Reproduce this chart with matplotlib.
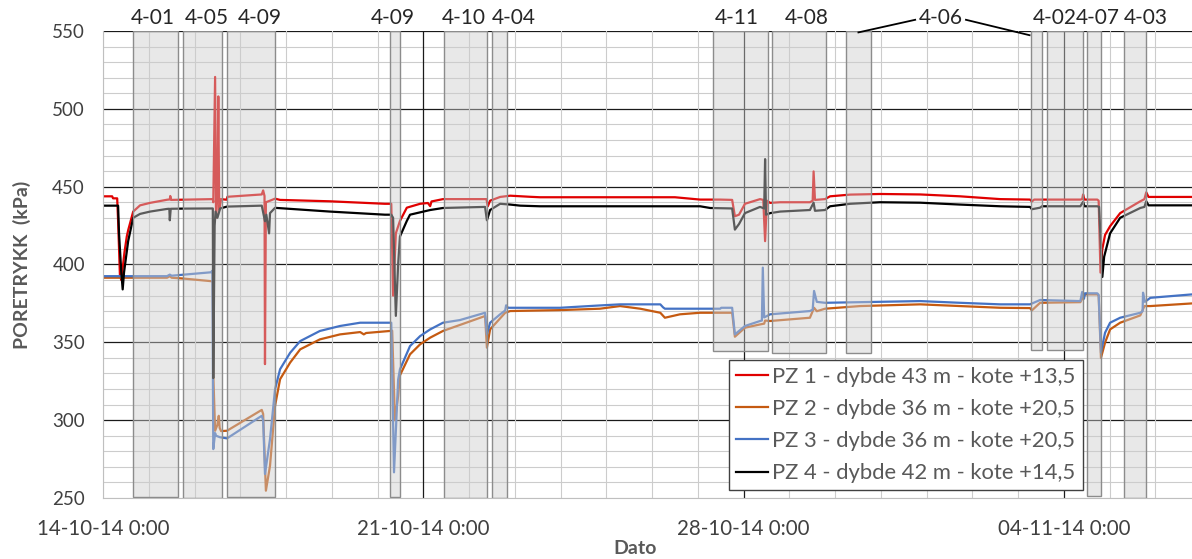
import matplotlib
matplotlib.use("Agg")
import matplotlib.pyplot as plt
from matplotlib.patches import Rectangle

plt.rcParams['font.family'] = ['Lato', 'DejaVu Sans']

# time axis: days after 14-10-14 0:00
week_labels = ["14-10-14 0:00", "21-10-14 0:00", "28-10-14 0:00", "04-11-14 0:00"]
week_days = [0, 7, 14, 21]

# PZ 1 - red
pz1_t = [0, 0.20, 0.22, 0.31, 0.33, 0.37, 0.40, 0.47, 0.52, 0.55, 0.66, 0.81, 1.03,
         1.40, 1.46, 1.47, 1.49, 2.40, 2.41, 2.45, 2.47, 2.50, 2.52, 2.54, 2.58,
         2.70, 2.72, 3.47, 3.50, 3.53, 3.54, 3.56, 3.65, 3.76, 3.87, 4.96, 6.16,
         6.30, 6.34, 6.40, 6.49, 6.64, 6.93, 7.10, 7.15, 7.18, 7.43, 8.38, 8.41,
         8.46, 8.68, 8.90, 9.33, 9.55, 12.50, 13.05, 13.49, 13.75, 13.81, 13.90,
         14.03, 14.36, 14.43, 14.47, 14.51, 14.58, 14.80, 15.45, 15.51, 15.53,
         15.56, 15.78, 15.89, 16.33, 16.98, 17.86, 18.73, 19.61, 20.26, 20.30,
         20.35, 20.52, 21.36, 21.40, 21.42, 21.45, 21.73, 21.76, 21.80, 21.84,
         21.90, 22.01, 22.23, 22.67, 22.76, 22.80, 22.85, 23.80]
pz1_v = [443.8, 443.8, 442.5, 442.5, 428, 393, 390, 408, 418, 422, 434, 438, 439.6,
         441.6, 441.8, 444, 441.5, 442, 440, 520.5, 430, 445, 508, 435, 442,
         441.6, 443.5, 445, 447.6, 444, 336, 440, 441, 442.3, 441.5, 440.6, 439,
         439, 380, 420, 428, 436.5, 439, 439.5, 437.5, 440.5, 442, 442, 437.4,
         441, 443.4, 444.2, 443.5, 443.2, 443.2, 441.7, 441.7, 441.5, 431, 432,
         439, 442, 441.5, 415, 441, 439.6, 440, 440, 441, 459.8,
         441.5, 442, 443.8, 444.9, 445.3, 445, 443.8, 442, 441.7, 440.5,
         441.7, 441.7, 441.7, 442, 445, 441.7, 441.7, 441, 394.8, 410,
         419, 424.6, 433, 440.6, 442, 446.4, 443.4, 443.4]

# PZ 2 - orange
pz2_t = [0, 1.40, 1.46, 1.50, 1.75, 2.36, 2.40, 2.41, 2.45, 2.50, 2.53, 2.55, 2.58,
         2.71, 3.47, 3.50, 3.56, 3.65, 3.76, 3.87, 4.09, 4.31, 4.74, 5.18, 5.62,
         5.70, 5.75, 6.27, 6.32, 6.38, 6.45, 6.49, 6.71, 6.93, 7.15, 7.43, 8.35,
         8.39, 8.46, 8.79, 8.90, 9.99, 10.86, 11.30, 11.74, 12.18, 12.28, 12.61,
         13.05, 13.75, 13.81, 14.03, 14.36, 14.45, 14.47, 14.58, 15.45, 15.54,
         15.60, 15.78, 16.55, 17.86, 18.73, 19.61, 20.26, 20.30, 20.48, 21.36,
         21.40, 21.46, 21.73, 21.76, 21.81, 21.90, 22.01, 22.23, 22.67, 22.76,
         22.89, 23.80]
pz2_v = [391.5, 391.5, 392.5, 391.5, 391, 389.3, 389, 330, 293.2, 297, 302.8, 295, 293,
         293.2, 306.6, 304, 254.7, 270.7, 309.2, 326.3, 337, 345.5, 351.9, 355.1, 356.6,
         355.1, 356, 357.3, 357.5, 300, 315.6, 328.8, 342.3, 348.7, 353, 357.3, 366.9,
         346.6, 358.3, 369, 370.1, 370.7, 371.6, 373.3, 371.6, 369, 365.8, 368,
         369, 369, 353.6, 359.4, 361.5, 362, 364, 363.7, 365.8, 372.2,
         370, 371.6, 373.3, 374.4, 373.3, 372.2, 372, 370.5, 375.4, 375.8,
         378, 380.8, 380.8, 380, 340, 349.8, 358.3, 362.6, 367.3, 373.3,
         373.3, 375]

# PZ 3 - blue
pz3_t = [0, 1.40, 1.46, 1.50, 2.36, 2.39, 2.41, 2.45, 2.47, 2.56, 2.71, 3.47, 3.50,
         3.54, 3.65, 3.76, 3.87, 4.09, 4.31, 4.74, 5.18, 5.62, 6.27, 6.30, 6.36,
         6.45, 6.49, 6.71, 6.93, 7.15, 7.43, 7.80, 8.35, 8.39, 8.46, 8.68, 8.79,
         8.81, 8.85, 9.99, 10.86, 11.30, 12.18, 12.24, 12.28, 13.49, 13.51, 13.75,
         13.81, 14.03, 14.36, 14.40, 14.42, 14.45, 14.58, 15.45, 15.51, 15.54,
         15.60, 15.78, 16.55, 17.86, 18.73, 19.61, 20.26, 20.48, 21.36, 21.40,
         21.44, 21.46, 21.73, 21.76, 21.81, 21.90, 22.01, 22.23, 22.67, 22.72,
         22.73, 22.77, 22.89, 23.80]
pz3_v = [392.5, 392.5, 393.5, 392.8, 395, 396, 281.4, 291.7, 290, 289, 288.3, 302.8, 300,
         265.4, 287.8, 319.9, 332.7, 343.3, 350.8, 357.3, 360.5, 362.6, 362.6, 362.6, 266.5,
         326, 332.7, 347.6, 354, 358.3, 362.6, 364.3, 369, 355.1, 362.6, 368, 370.5,
         373.8, 372.2, 372.2, 373.7, 374.4, 374.4, 372.5, 371.6, 371.6, 372.2, 372.2,
         355.1, 360.5, 363.7, 364, 398, 366, 368, 370.1, 371, 383,
         376, 375.4, 375.8, 376.5, 375.4, 374.4, 374.4, 377.2, 376.5, 382.4,
         378, 381.5, 381.5, 380.5, 343.4, 356.2, 362.6, 365.8, 369, 370,
         381.9, 376, 378.6, 380.8]

# PZ 4 - black
pz4_t = [0, 0.33, 0.35, 0.40, 0.43, 0.46, 0.55, 0.59, 0.66, 0.81, 1.03, 1.40, 1.45,
         1.46, 1.48, 1.75, 2.40, 2.41, 2.44, 2.46, 2.50, 2.56, 2.71, 3.47, 3.54,
         3.57, 3.63, 3.65, 3.76, 4.96, 6.16, 6.30, 6.34, 6.40, 6.45, 6.49, 6.64,
         6.71, 7.15, 7.43, 8.35, 8.39, 8.46, 8.68, 8.90, 9.12, 9.55, 13.05, 13.27,
         13.75, 13.81, 13.90, 14.03, 14.36, 14.45, 14.47, 14.49, 14.58, 14.80,
         15.45, 15.53, 15.56, 15.78, 15.89, 16.33, 16.98, 17.86, 18.73, 19.61,
         20.26, 20.30, 20.48, 20.52, 21.36, 21.42, 21.45, 21.73, 21.77, 21.84,
         21.88, 22.01, 22.23, 22.67, 22.76, 22.80, 22.85, 23.80]
pz4_v = [437.8, 437.8, 420, 395, 384, 395, 415, 420.5, 430, 432.5, 434, 435.7, 435.8,
         428.4, 435.8, 435.9, 436, 327, 425, 434, 430, 436, 437.2, 437.8, 427.8,
         432, 420, 433, 436.4, 434, 432, 432, 430, 367, 400, 418, 428,
         432, 435, 436.3, 437, 428.4, 435, 439, 438.5, 437.8, 437.4, 437.4, 436.3,
         436, 422.4, 426, 433, 437, 436, 467.7, 432, 433, 434,
         435, 439.7, 434.5, 435, 437.4, 439, 440, 439.7, 438.5, 437.4,
         437, 435.5, 436.5, 437.4, 437.4, 440.3, 437.4, 437.4, 437, 392,
         405, 420, 430, 436.3, 437, 440.6, 438, 438]

# drilling periods: start day, end day, lower edge (kPa)
box_start = [0.649, 1.755, 2.717, 6.273, 7.461, 8.495, 13.326, 14.616,
             16.240, 20.277, 20.641, 21.515, 22.324]
box_end = [1.646, 2.594, 3.766, 6.492, 8.401, 8.837, 14.542, 15.796,
           16.780, 20.517, 21.414, 21.807, 22.791]
box_low = [250.8, 250, 250.8, 250.8, 250.3, 250.3, 344.2, 343.4,
           343, 344.9, 344.9, 251.2, 250.2]

# labels above the plot (4-06 is drawn with leader lines)
top_labels = ["4-01", "4-05", "4-09", "4-09", "4-10", "4-04", "4-11", "4-08",
              "4-06", "4-02", "4-07", "4-03"]
top_pos = [1.09, 2.27, 3.43, 6.34, 7.89, 8.98, 13.86, 15.39,
           18.32, 20.81, 21.75, 22.80]

W, H = 1192, 559
fig = plt.figure(figsize=(W / 100, H / 100), dpi=100)
ax = fig.add_axes([103 / W, 1 - 498 / H, (W - 103) / W, (498 - 31) / H])
ax.set_xlim(0, 23.8)
ax.set_ylim(250, 550)

# grid drawn by hand so the week lines can be dark
for v in range(250, 551, 10):
    major = v % 50 == 0 and v != 250
    ax.axhline(v, color="#1a1a1a" if major else "#cccccc",
               lw=0.9 if major else 0.8, zorder=0.5)
for d in range(0, 24):
    major = d in (7, 14, 21)
    ax.axvline(d, color="#1a1a1a" if major else "#cccccc",
               lw=0.9 if major else 0.8, zorder=0.5)

l1, = ax.plot(pz1_t, pz1_v, color="#e00000", lw=1.6, zorder=2)
l2, = ax.plot(pz2_t, pz2_v, color="#c55a11", lw=1.6, zorder=2)
l3, = ax.plot(pz3_t, pz3_v, color="#4472c4", lw=1.6, zorder=2)
l4, = ax.plot(pz4_t, pz4_v, color="#000000", lw=1.6, zorder=2)

for x0, x1, lo in zip(box_start, box_end, box_low):
    ax.add_patch(Rectangle((x0, lo), x1 - x0, 550 - lo,
                           facecolor=(0.80, 0.80, 0.80, 0.45),
                           edgecolor="#8c8c8c", lw=1.0, zorder=3))

trans = ax.get_xaxis_transform()
for name, x in zip(top_labels, top_pos):
    ax.text(x, 1.028, name, transform=trans, ha="center", va="center",
            fontsize=15, color="#262626")
# leader lines for 4-06
ax.plot([17.75, 16.51], [1.024, 0.997], transform=trans, color="black",
        lw=1.3, clip_on=False, zorder=5)
ax.plot([18.86, 20.25], [1.024, 0.991], transform=trans, color="black",
        lw=1.3, clip_on=False, zorder=5)

for s in ax.spines.values():
    s.set_visible(False)
ax.spines["left"].set_visible(True)
ax.spines["bottom"].set_visible(True)
ax.spines["left"].set_color("#bfbfbf")
ax.spines["bottom"].set_color("#bfbfbf")

ax.set_yticks(range(250, 551, 50))
ax.set_xticks(week_days)
ax.set_xticklabels(week_labels)
ax.tick_params(axis="both", length=0, colors="#404040")
ax.tick_params(axis="y", pad=13, labelsize=13.5)
ax.tick_params(axis="x", pad=15, labelsize=14.8)

fig.text(22 / W, 1 - 265 / H, "PORETRYKK  (kPa)", rotation=90, ha="center",
         va="center", fontsize=14, fontweight="bold", color="#595959")
fig.text(635 / W, 1 - 549 / H, "Dato", ha="center", va="center",
         fontsize=14, fontweight="bold", color="#595959")

labels = ["PZ 1 - dybde 43 m - kote +13,5", "PZ 2 - dybde 36 m - kote +20,5",
          "PZ 3 - dybde 36 m - kote +20,5", "PZ 4 - dybde 42 m - kote +14,5"]
leg = ax.legend([l1, l2, l3, l4], labels, loc="upper left",
                bbox_to_anchor=(0.575, 0.2955), fontsize=15.8, frameon=True,
                fancybox=False, framealpha=1, edgecolor="#404040",
                handlelength=1.45, handletextpad=0.2, labelspacing=0.55,
                borderpad=0.32, borderaxespad=0)
leg.get_frame().set_linewidth(1.0)
leg.set_zorder(6)
for t in leg.get_texts():
    t.set_color("#595959")

fig.savefig("out.png", dpi=100)
